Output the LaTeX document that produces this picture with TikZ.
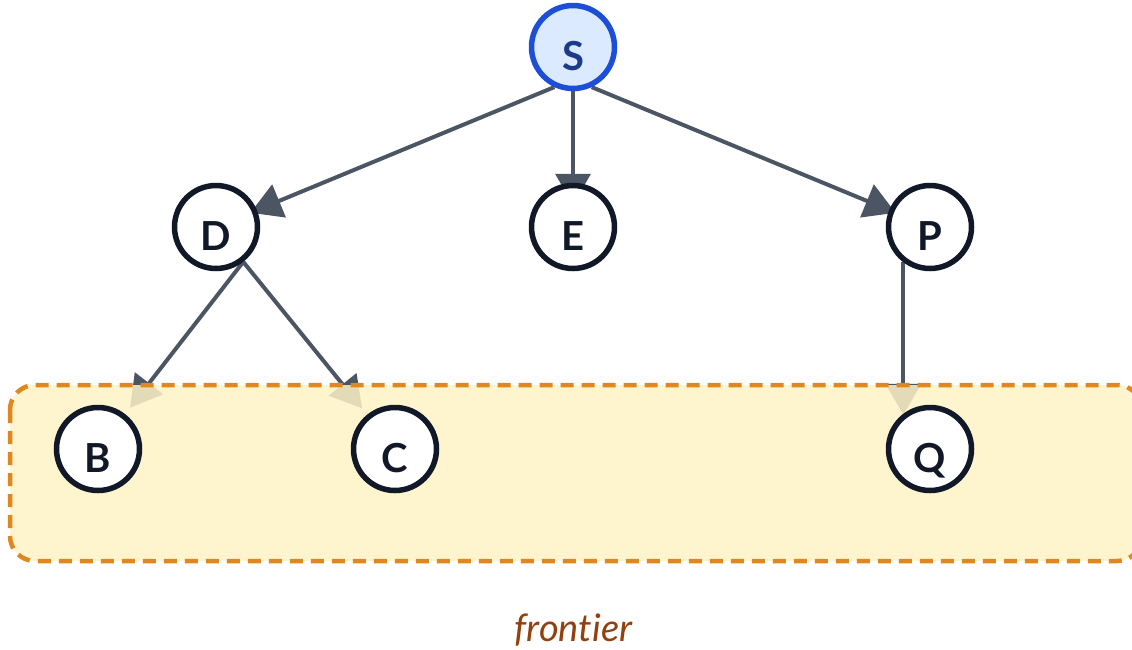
\documentclass[tikz,border=0pt]{standalone}
\usepackage{fontspec}
\setmainfont{Lato}[Ligatures=NoCommon]
\usetikzlibrary{arrows.meta,calc}

\definecolor{edgegray}{HTML}{4B5563}
\definecolor{inkdark}{HTML}{111827}
\definecolor{startfill}{HTML}{DBEAFE}
\definecolor{startline}{HTML}{1D4ED8}
\definecolor{starttext}{HTML}{1E3A8A}
\definecolor{frontfill}{HTML}{FEF3C7}
\definecolor{frontline}{HTML}{E0871E}
\definecolor{fronttext}{HTML}{92400E}

\pgfdeclarelayer{edgelayer}
\pgfdeclarelayer{boxlayer}
\pgfsetlayers{edgelayer,boxlayer,main}

\tikzset{
  vertex/.style={circle, draw=inkdark, line width=5.5pt, fill=white,
    inner sep=0pt, minimum size=83pt},
  startvertex/.style={vertex, draw=startline, fill=startfill},
  vlabel/.style={font=\fontsize{40}{44}\selectfont\bfseries, text=inkdark,
    text height=28pt, text depth=0pt, inner sep=0pt, yshift=-9pt},
  edge/.style={draw=edgegray, line width=4pt,
    -{Triangle[length=31pt,width=35pt]}},
  frontierbox/.style={draw=frontline, line width=4.5pt,
    dash pattern=on 13pt off 8pt, fill=frontfill, fill opacity=0.85,
    rounded corners=25pt},
}

\begin{document}
\begin{tikzpicture}[x=1pt,y=-1pt]
  \useasboundingbox (0,0) rectangle (1132,649);

  % search tree nodes
  \node[startvertex, label={[vlabel, text=starttext]center:S}] (S) at (573,47) {};
  \node[vertex, label={[vlabel]center:D}] (D) at (216,227) {};
  \node[vertex, label={[vlabel]center:E}] (E) at (573,227) {};
  \node[vertex, label={[vlabel]center:P}] (P) at (930,227) {};
  \node[vertex, label={[vlabel]center:B}] (B) at (98,449) {};
  \node[vertex, label={[vlabel]center:C}] (C) at (395,449) {};
  \node[vertex, label={[vlabel]center:Q}] (Q) at (930,449) {};

  % end of the straight drop from P towards Q
  \coordinate (qend) at ($(P.233 |- Q.north)+(0,10)$);

  % tree edges
  \begin{pgfonlayer}{edgelayer}
    \draw[edge, shorten >=-7pt] (S.245) -- (D);
    \draw[edge, shorten >=-22pt] (S.south) -- (E);
    \draw[edge, shorten >=-7pt] (S.295) -- (P);
    \draw[edge, shorten >=8pt] (D.308) -- (B);
    \draw[edge, shorten >=8pt] (D.308) -- (C);
    \draw[edge] (P.233) -- (qend);
  \end{pgfonlayer}

  % frontier region
  \begin{pgfonlayer}{boxlayer}
    \draw[frontierbox] (10,385) rectangle (1142,561);
  \end{pgfonlayer}

  \node[font=\fontsize{38}{42}\selectfont\itshape, text=fronttext,
    anchor=base, inner sep=0pt] (frontier) at (573.5,641) {frontier};
\end{tikzpicture}
\end{document}
